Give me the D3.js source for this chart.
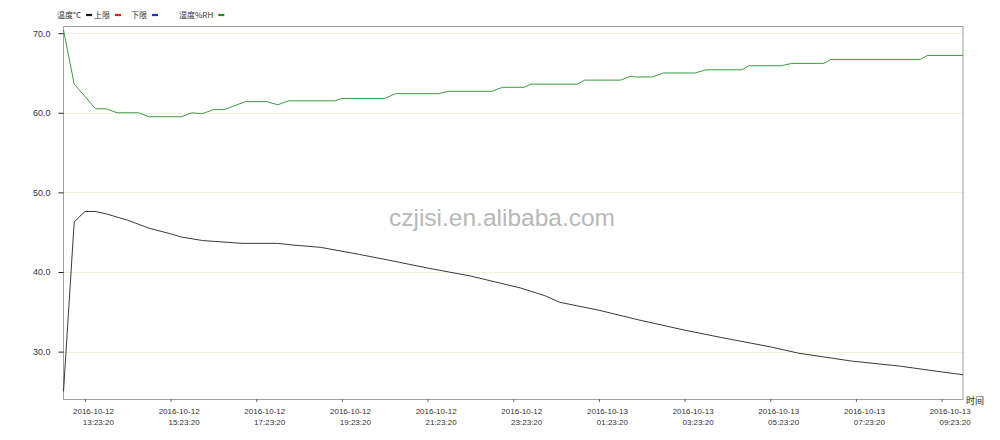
<!DOCTYPE html>
<html><head><meta charset="utf-8">
<script src="https://cdn.jsdelivr.net/npm/d3@7"></script>
<style>body{margin:0;background:#fff;}svg{display:block;font-family:"Liberation Sans",Arial,sans-serif;}</style>
</head><body><svg id="c" width="1000" height="440"></svg>
<script>
const legendLabels = ["温度°C","上限","下限","湿度%RH"];
const legendColors = ["#111111","#e02020","#2030d0","#2a8a2a"];
const yTicks = [30,40,50,60,70];
const xTickTimes = ["2016-10-12 13:23:20","2016-10-12 15:23:20","2016-10-12 17:23:20","2016-10-12 19:23:20","2016-10-12 21:23:20","2016-10-12 23:23:20","2016-10-13 01:23:20","2016-10-13 03:23:20","2016-10-13 05:23:20","2016-10-13 07:23:20","2016-10-13 09:23:20"];
const xDomain = ["2016-10-12 12:53:20","2016-10-13 09:53:20"];
const yDomain = [24.05, 70.9];

const humTimes = ["2016-10-12 12:53:20","2016-10-12 13:08:20","2016-10-12 13:38:20","2016-10-12 13:53:20","2016-10-12 14:08:20","2016-10-12 14:38:20","2016-10-12 14:53:20","2016-10-12 15:38:20","2016-10-12 15:53:20","2016-10-12 16:03:20","2016-10-12 16:08:20","2016-10-12 16:23:20","2016-10-12 16:38:20","2016-10-12 17:08:20","2016-10-12 17:38:20","2016-10-12 17:53:20","2016-10-12 18:08:20","2016-10-12 19:13:20","2016-10-12 19:23:20","2016-10-12 20:23:20","2016-10-12 20:38:20","2016-10-12 21:38:20","2016-10-12 21:53:20","2016-10-12 22:53:20","2016-10-12 23:08:20","2016-10-12 23:38:20","2016-10-12 23:48:20","2016-10-13 00:53:20","2016-10-13 01:03:20","2016-10-13 01:53:20","2016-10-13 02:08:20","2016-10-13 02:13:20","2016-10-13 02:38:20","2016-10-13 02:53:20","2016-10-13 03:38:20","2016-10-13 03:53:20","2016-10-13 04:43:20","2016-10-13 04:53:20","2016-10-13 05:38:20","2016-10-13 05:53:20","2016-10-13 06:38:20","2016-10-13 06:48:20","2016-10-13 08:53:20","2016-10-13 09:03:20","2016-10-13 09:53:20"];
const humValues = [70.4,63.6,60.5,60.5,60.0,60.0,59.5,59.5,60.0,59.9,59.9,60.4,60.4,61.4,61.4,61.0,61.5,61.5,61.8,61.8,62.4,62.4,62.7,62.7,63.2,63.2,63.6,63.6,64.1,64.1,64.6,64.5,64.5,65.0,65.0,65.4,65.4,65.9,65.9,66.2,66.2,66.7,66.7,67.2,67.2];

const tempTimes = ["2016-10-12 12:53:20","2016-10-12 13:08:20","2016-10-12 13:23:20","2016-10-12 13:38:20","2016-10-12 13:53:20","2016-10-12 14:23:20","2016-10-12 14:53:20","2016-10-12 15:23:20","2016-10-12 15:38:20","2016-10-12 16:08:20","2016-10-12 17:03:20","2016-10-12 17:53:20","2016-10-12 18:13:20","2016-10-12 18:53:20","2016-10-12 19:48:20","2016-10-12 20:28:20","2016-10-12 21:23:20","2016-10-12 22:23:20","2016-10-12 23:33:20","2016-10-13 00:08:20","2016-10-13 00:28:20","2016-10-13 01:23:20","2016-10-13 02:18:20","2016-10-13 03:23:20","2016-10-13 04:13:20","2016-10-13 05:23:20","2016-10-13 06:03:20","2016-10-13 07:18:20","2016-10-13 08:23:20","2016-10-13 09:23:20","2016-10-13 09:53:20"];
const tempValues = [25.0,46.3,47.6,47.6,47.3,46.5,45.5,44.8,44.4,43.95,43.6,43.6,43.4,43.1,42.2,41.5,40.5,39.5,38.0,37.0,36.2,35.2,34.0,32.7,31.8,30.6,29.8,28.8,28.2,27.45,27.1];

const parse = d3.timeParse("%Y-%m-%d %H:%M:%S");
const L = 63.5, R = 963, T = 26, B = 399;
const svg = d3.select("#c");
const x = d3.scaleTime().domain(xDomain.map(parse)).range([L, R]);
const y = d3.scaleLinear().domain(yDomain).range([B, T]);

// gridlines
svg.append("g").selectAll("line").data(yTicks).join("line")
  .attr("x1", L).attr("x2", R).attr("y1", d => Math.round(y(d)) + 0.5).attr("y2", d => Math.round(y(d)) + 0.5)
  .attr("stroke", "#f4f1e2").attr("stroke-width", 1);

// frame
svg.append("rect").attr("x", L).attr("y", T + 0.5).attr("width", R - L).attr("height", B - T)
  .attr("fill", "none").attr("stroke", "#a0a0a0").attr("stroke-width", 1);

// y axis
const ya = svg.append("g").attr("transform", `translate(${L},0)`)
  .call(d3.axisLeft(y).tickValues(yTicks).tickSize(5).tickPadding(8).tickFormat(d3.format(".1f")));
ya.select(".domain").remove();
ya.selectAll(".tick line").attr("stroke", "#222");
ya.selectAll("text").attr("font-size", 9).attr("fill", "#333");

// x axis
const xa = svg.append("g").attr("transform", `translate(0,${B})`)
  .call(d3.axisBottom(x).tickValues(xTickTimes.map(parse)).tickSize(3).tickFormat(""));
xa.select(".domain").remove();
xa.selectAll(".tick line").attr("stroke", "#666");
const fDate = d3.timeFormat("%Y-%m-%d"), fTime = d3.timeFormat("%H:%M:%S");
xa.selectAll(".tick").each(function(d) {
  const g = d3.select(this);
  g.append("text").attr("x", 28.5).attr("y", 15).attr("text-anchor", "end")
    .attr("font-size", 8).attr("fill", "#333").text(fDate(d));
  g.append("text").attr("x", 28.5).attr("y", 26).attr("text-anchor", "end")
    .attr("font-size", 8).attr("fill", "#333").text(fTime(d));
});
svg.append("text").attr("x", 966).attr("y", 404).attr("font-size", 9).attr("fill", "#222")
  .attr("font-family", "Noto Sans CJK SC").text("时间");

// watermark
svg.append("text").attr("x", 502).attr("y", 226).attr("text-anchor", "middle")
  .attr("font-size", 24.5).attr("fill", "#b8b8b8").text("czjisi.en.alibaba.com");

// lines
const hum = humTimes.map((t, i) => [parse(t), humValues[i]]);
const temp = tempTimes.map((t, i) => [parse(t), tempValues[i]]);
const line = d3.line().x(d => x(d[0])).y(d => y(d[1]));
svg.append("path").datum(hum).attr("d", line).attr("fill", "none")
  .attr("stroke", "#3d9a45").attr("stroke-width", 1);
svg.append("path").datum(temp).attr("d", line).attr("fill", "none")
  .attr("stroke", "#222").attr("stroke-width", 0.9);

// legend
const legX = [57, 94, 131, 179];
const leg = svg.append("g").attr("font-size", 8).attr("fill", "#333").attr("font-family", "Noto Sans CJK SC");
legendLabels.forEach((lab, i) => {
  const t = leg.append("text").attr("x", legX[i]).attr("y", 18).text(lab);
  const w = t.node().getComputedTextLength();
  leg.append("line").attr("x1", legX[i] + w + 5).attr("x2", legX[i] + w + 11)
    .attr("y1", 15).attr("y2", 15).attr("stroke", legendColors[i]).attr("stroke-width", 2.2);
});
</script></body></html>
